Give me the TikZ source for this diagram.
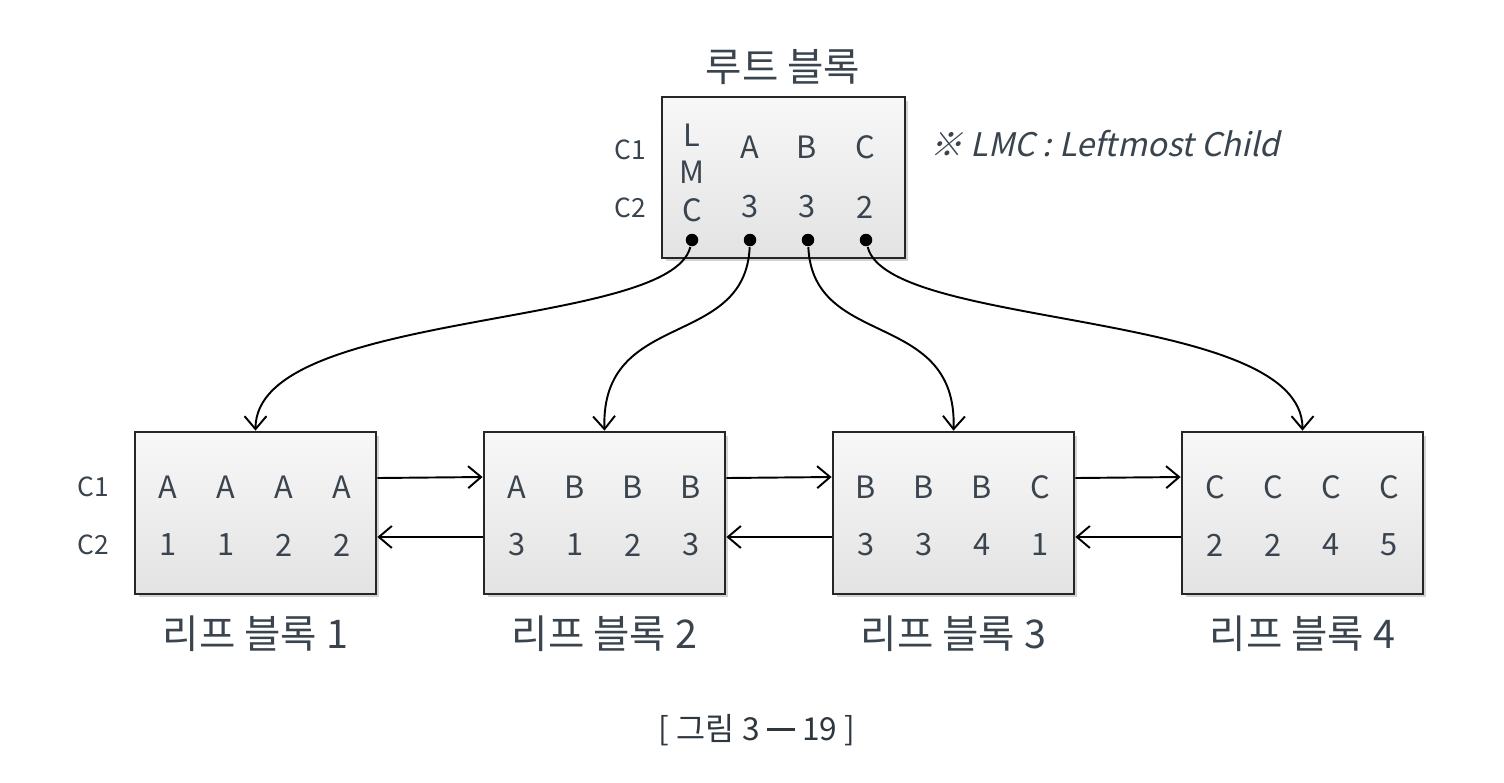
\documentclass[tikz,border=0pt]{standalone}
\usepackage{fontspec}
\setmainfont{Noto Sans CJK KR}
\newfontfamily\notefont{Noto Sans CJK KR}[FakeSlant=0.22]
\usepackage{tikz}
\usetikzlibrary{positioning,arrows.meta,shadows}
\usepackage{xcolor}
\definecolor{inkgray}{RGB}{58,68,78}

\begin{document}
\begin{tikzpicture}[x=0.02cm, y=-0.02cm, line width=1.1pt,
    block/.style={draw=black!85, line width=1.6pt, rectangle, top color=gray!6, bottom color=gray!22,
        drop shadow={opacity=0.35, shadow xshift=0.07cm, shadow yshift=-0.07cm}},
    entry/.style={text=inkgray, inner sep=0pt, font=\fontsize{17.5}{20}\selectfont},
    rowlabel/.style={text=inkgray, inner sep=0pt, font=\fontsize{15}{18}\selectfont},
    title/.style={text=inkgray, inner sep=0pt, font=\fontsize{22.5}{26}\selectfont},
    pin/.style={circle, fill=black, inner sep=0pt, minimum size=0.25cm},
    link/.style={-{Straight Barb[length=2.6mm, width=4.4mm]}, line width=1.1pt}]
    \useasboundingbox (0,0) rectangle (1504,782);

    % root block
    \node (root) [block, minimum width=4.86cm, minimum height=3.22cm] at (783.5,177.5) {};
    \node (roottitle) [title] at (783,67) {루트 블록};
    \node (rc1) [rowlabel] at (630,150) {C1};
    \node (rc2) [rowlabel] at (630,208) {C2};
    \node (lmcL) [entry] at (692,135) {L};
    \node (lmcM) [entry] at (692,172) {M};
    \node (lmcC) [entry] at (692,210) {C};
    \node (rA) [entry] at (750,147) {A};
    \node (rB) [entry] at (807,147) {B};
    \node (rC) [entry] at (865,147) {C};
    \node (r3a) [entry] at (750,207) {3};
    \node (r3b) [entry] at (807,207) {3};
    \node (r2) [entry] at (865,207) {2};
    \node (d1) [pin] at (692,240) {};
    \node (d2) [pin] at (750,240) {};
    \node (d3) [pin] at (808,240) {};
    \node (d4) [pin] at (866,240) {};
    \node (note) [text=inkgray, inner sep=0pt, font=\notefont\fontsize{18.5}{22}\selectfont, anchor=west] at (930,144) {※ LMC : Leftmost Child};

    % leaf blocks
    \foreach \i/\x/\ka/\kb/\kc/\kd/\va/\vb/\vc/\vd in {
        1/135/A/A/A/A/1/1/2/2,
        2/484/A/B/B/B/3/1/2/3,
        3/833/B/B/B/C/3/3/4/1,
        4/1182/C/C/C/C/2/2/4/5} {
        \node (leaf\i) [block, minimum width=4.82cm, minimum height=3.24cm] at (\x+120.5,513) {};
        \node (leaftitle\i) [title] at (\x+120.5,634) {리프 블록 \i};
        \node (k\i a) [entry] at (\x+33,487) {\ka};
        \node (k\i b) [entry] at (\x+91,487) {\kb};
        \node (k\i c) [entry] at (\x+149,487) {\kc};
        \node (k\i d) [entry] at (\x+207,487) {\kd};
        \node (v\i a) [entry] at (\x+33,545) {\va};
        \node (v\i b) [entry] at (\x+91,545) {\vb};
        \node (v\i c) [entry] at (\x+149,545) {\vc};
        \node (v\i d) [entry] at (\x+207,545) {\vd};
    }
    \node (lc1) [rowlabel] at (93,487) {C1};
    \node (lc2) [rowlabel] at (93,545) {C2};

    % caption
    \node (caption) [text=inkgray!80!black, inner sep=0pt, font=\fontsize{18}{21}\selectfont] at (757,730) {[ 그림 3 \rule[0.55ex]{0.9em}{0.09em} 19 ]};

    % root to leaves
    \draw [link] (d1) .. controls +(-22,90) and +(0,-122) .. (leaf1.north);
    \draw [link] (d2) .. controls +(-5,110) and +(-4,-122) .. (leaf2.north);
    \draw [link] (d3) .. controls +(5,110) and +(4,-122) .. (leaf3.north);
    \draw [link] (d4) .. controls +(22,90) and +(0,-122) .. (leaf4.north);

    % leaf chain
    \foreach \a/\b in {1/2, 2/3, 3/4} {
        \draw [link] ([yshift=0.7cm]leaf\a.east) -- ([yshift=0.72cm]leaf\b.west);
        \draw [link] ([yshift=-0.48cm]leaf\b.west) -- ([yshift=-0.48cm]leaf\a.east);
    }
\end{tikzpicture}
\end{document}
